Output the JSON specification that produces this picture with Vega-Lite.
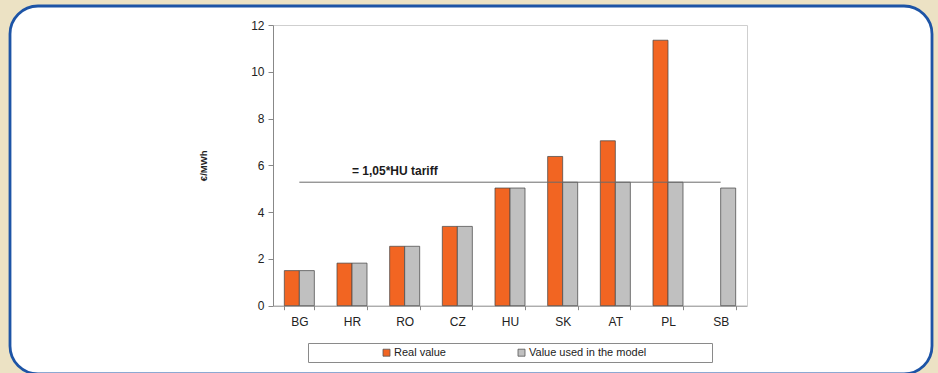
{
  "$schema": "https://vega.github.io/schema/vega-lite/v6.json",
  "width": 922,
  "height": 368,
  "autosize": {"type": "none"},
  "padding": {"left": 10, "top": 6, "right": 6, "bottom": 0},
  "background": "#ECE2C4",
  "view": {"fill": "#FFFFFF", "stroke": "#1D54A6", "strokeWidth": 2.8, "cornerRadius": 28},
  "config": {"font": "Liberation Sans"},
  "datasets": {
    "tariffs": [
      {"country": "BG", "series": "Real value", "value": 1.50},
      {"country": "BG", "series": "Value used in the model", "value": 1.50},
      {"country": "HR", "series": "Real value", "value": 1.82},
      {"country": "HR", "series": "Value used in the model", "value": 1.82},
      {"country": "RO", "series": "Real value", "value": 2.54},
      {"country": "RO", "series": "Value used in the model", "value": 2.54},
      {"country": "CZ", "series": "Real value", "value": 3.39},
      {"country": "CZ", "series": "Value used in the model", "value": 3.39},
      {"country": "HU", "series": "Real value", "value": 5.03},
      {"country": "HU", "series": "Value used in the model", "value": 5.03},
      {"country": "SK", "series": "Real value", "value": 6.38},
      {"country": "SK", "series": "Value used in the model", "value": 5.28},
      {"country": "AT", "series": "Real value", "value": 7.05},
      {"country": "AT", "series": "Value used in the model", "value": 5.28},
      {"country": "PL", "series": "Real value", "value": 11.35},
      {"country": "PL", "series": "Value used in the model", "value": 5.28},
      {"country": "SB", "series": "Value used in the model", "value": 5.03}
    ],
    "cap": [
      {"from": "BG", "to": "SB", "value": 5.28, "label": "= 1,05*HU tariff", "at": "HR", "labelValue": 5.77}
    ]
  },
  "resolve": {"axis": {"x": "independent", "y": "independent"}},
  "layer": [
    {
      "data": {"name": "tariffs"},
      "mark": {"type": "bar", "stroke": "#4a4a4a", "strokeWidth": 1, "strokeOpacity": 0.75},
      "encoding": {
        "x": {
          "field": "country",
          "type": "nominal",
          "scale": {
            "domain": ["BG", "HR", "RO", "CZ", "HU", "SK", "AT", "PL", "SB"],
            "range": [263, 737],
            "paddingInner": 0.43,
            "paddingOuter": 0.215
          },
          "axis": {
            "orient": "bottom",
            "offset": -68.3,
            "title": null,
            "labelAngle": 0,
            "labelFontSize": 12,
            "labelColor": "#222222",
            "labelPadding": 7,
            "tickBand": "extent",
            "tickSize": 4,
            "tickColor": "#888888",
            "domainColor": "#888888",
            "grid": false
          }
        },
        "xOffset": {
          "field": "series",
          "type": "nominal",
          "scale": {"domain": ["Real value", "Value used in the model"]}
        },
        "y": {
          "field": "value",
          "type": "quantitative",
          "scale": {"domain": [0, 12], "range": [299.7, 19], "nice": false, "zero": true},
          "axis": {
            "orient": "left",
            "offset": -263,
            "values": [0, 2, 4, 6, 8, 10, 12],
            "title": "€/MWh",
            "titleFontSize": 9.5,
            "titleFontWeight": "bold",
            "titleColor": "#222222",
            "titlePadding": 42,
            "labelFontSize": 12,
            "labelColor": "#222222",
            "labelPadding": 4,
            "tickSize": 5,
            "tickColor": "#888888",
            "domainColor": "#888888",
            "grid": false
          }
        },
        "color": {
          "field": "series",
          "type": "nominal",
          "scale": {
            "domain": ["Real value", "Value used in the model"],
            "range": ["#F26522", "#C0C0C0"]
          },
          "legend": {
            "orient": "none",
            "legendX": 298,
            "legendY": 337,
            "direction": "horizontal",
            "columns": 2,
            "gridAlign": "each",
            "columnPadding": 70,
            "padding": 4,
            "fillColor": "#FFFFFF",
            "strokeColor": "#8a8a8a",
            "title": "\u200b\u00a0\u00a0\u00a0\u00a0\u00a0\u00a0\u00a0\u00a0\u00a0\u00a0\u00a0\u00a0\u00a0\u00a0\u00a0\u00a0\u00a0\u00a0\u00a0\u00a0\u00a0\u00a0\u200b",
            "titleOrient": "left",
            "titleFontSize": 11,
            "titlePadding": 1,
            "symbolType": "square",
            "symbolSize": 49,
            "symbolStrokeColor": "#555555",
            "symbolStrokeWidth": 0.8,
            "labelFontSize": 11,
            "labelColor": "#222222",
            "labelOffset": 2,
            "labelLimit": 400,
            "labelExpr": "datum.label == 'Value used in the model' ? datum.label + '\u00a0\u00a0\u00a0\u00a0\u00a0\u00a0\u00a0\u00a0\u00a0\u00a0\u00a0\u00a0\u00a0\u00a0\u00a0\u00a0\u00a0\u00a0\u00a0\u00a0\u200b' : datum.label"
          }
        }
      }
    },
    {
      "data": {"name": "cap"},
      "mark": {"type": "rule", "color": "#6a6a6a", "strokeWidth": 1},
      "encoding": {
        "x": {
          "field": "from",
          "type": "nominal",
          "axis": {
            "orient": "top",
            "offset": -19,
            "title": null,
            "labels": false,
            "ticks": false,
            "domainColor": "#cfcfcf",
            "grid": false
          }
        },
        "x2": {"field": "to"},
        "y": {
          "field": "value",
          "type": "quantitative",
          "axis": {
            "orient": "right",
            "offset": -185,
            "title": null,
            "labels": false,
            "ticks": false,
            "domainColor": "#cfcfcf",
            "grid": false
          }
        }
      }
    },
    {
      "data": {"name": "cap"},
      "mark": {"type": "text", "align": "left", "baseline": "middle", "fontSize": 12, "fontWeight": "bold", "color": "#1a1a1a"},
      "encoding": {
        "x": {"field": "at", "type": "nominal", "axis": null},
        "y": {"field": "labelValue", "type": "quantitative", "axis": null},
        "text": {"field": "label"}
      }
    }
  ]
}
